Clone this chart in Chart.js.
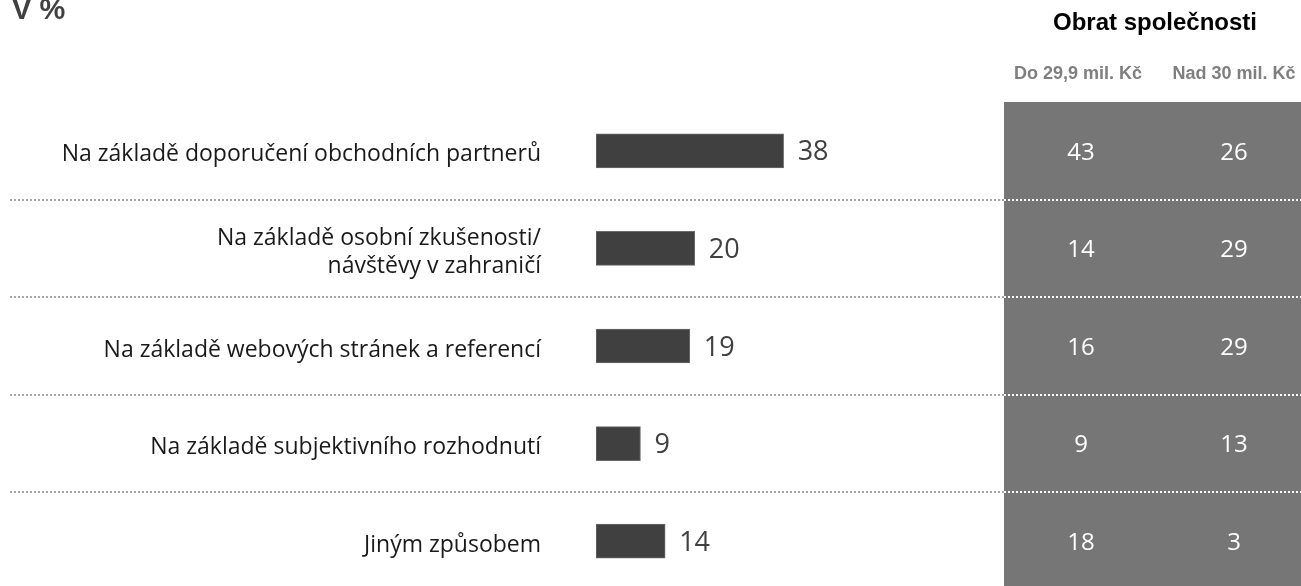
<!DOCTYPE html>
<html>
<head>
<meta charset="utf-8">
<script src="https://cdn.jsdelivr.net/npm/chart.js@4/dist/chart.umd.min.js"></script>
<style>
  html, body { margin: 0; padding: 0; background: #fff; overflow: hidden; }
  #wrap { width: 1301px; height: 586px; overflow: hidden; position: relative; }
  #c { display: block; }
</style>
</head>
<body>
<div id="wrap"><canvas id="c" width="1301" height="592"></canvas></div>
<script>
// ---- data ----
const categories = [
  "Na základě doporučení obchodních partnerů",
  ["Na základě osobní zkušenosti/", "návštěvy v zahraničí"],
  "Na základě webových stránek a referencí",
  "Na základě subjektivního rozhodnutí",
  "Jiným způsobem"
];
const totalValues = [38, 20, 19, 9, 14];
const smallCompanyValues = [43, 14, 16, 9, 18];
const largeCompanyValues = [26, 29, 29, 13, 3];
const chartTitle = "V %";
const panelTitle = "Obrat společnosti";
const panelColumns = ["Do 29,9 mil. Kč", "Nad 30 mil. Kč"];

const canvas = document.getElementById('c');
canvas.style.width = '1301px';
canvas.style.height = '592px';

const decor = {
  id: 'decor',
  beforeDraw(chart) {
    const ctx = chart.ctx;
    ctx.save();
    ctx.fillStyle = '#ffffff';
    ctx.fillRect(0, 0, chart.width, chart.height);
    // grey panel
    ctx.fillStyle = '#767676';
    ctx.fillRect(1004, chart.chartArea.top, chart.width - 1004, chart.height - chart.chartArea.top);
    // title
    ctx.fillStyle = '#404040';
    ctx.font = 'bold 29px "Liberation Sans", Arial, sans-serif';
    ctx.textAlign = 'left';
    ctx.textBaseline = 'alphabetic';
    ctx.fillText(chartTitle, 12, 19);
    // panel headers
    ctx.fillStyle = '#000000';
    ctx.font = 'bold 24px "Liberation Sans", Arial, sans-serif';
    ctx.textAlign = 'center';
    ctx.fillText(panelTitle, 1155, 30);
    ctx.fillStyle = '#7f7f7f';
    ctx.font = 'bold 18px "Liberation Sans", Arial, sans-serif';
    ctx.fillText(panelColumns[0], 1078, 79);
    ctx.fillText(panelColumns[1], 1234, 79);
    ctx.restore();
  },
  afterDraw(chart) {
    const ctx = chart.ctx;
    const ys = chart.scales.y;
    const xs = chart.scales.x;
    ctx.save();
    // dotted separators
    ctx.lineWidth = 2;
    ctx.setLineDash([2, 2]);
    for (let i = 0; i < categories.length - 1; i++) {
      const y = Math.round((ys.getPixelForValue(i) + ys.getPixelForValue(i + 1)) / 2);
      ctx.strokeStyle = '#a6a6a6';
      ctx.beginPath();
      ctx.moveTo(10, y);
      ctx.lineTo(1004, y);
      ctx.stroke();
      ctx.strokeStyle = '#ffffff';
      ctx.beginPath();
      ctx.moveTo(1004, y);
      ctx.lineTo(chart.width, y);
      ctx.stroke();
    }
    ctx.setLineDash([]);
    // value labels
    ctx.textBaseline = 'middle';
    ctx.textAlign = 'left';
    ctx.fillStyle = '#404040';
    ctx.font = '27px "Open Sans", sans-serif';
    totalValues.forEach((v, i) => {
      const y = ys.getPixelForValue(i);
      ctx.fillText(String(v), xs.getPixelForValue(v) + 14, y + 2);
    });
    // panel values
    ctx.textAlign = 'center';
    ctx.fillStyle = '#ffffff';
    ctx.font = '24px "Open Sans", sans-serif';
    smallCompanyValues.forEach((v, i) => {
      ctx.fillText(String(v), 1081, ys.getPixelForValue(i) + 2);
    });
    largeCompanyValues.forEach((v, i) => {
      ctx.fillText(String(v), 1234, ys.getPixelForValue(i) + 2);
    });
    ctx.restore();
  }
};

new Chart(canvas, {
  type: 'bar',
  data: {
    labels: categories,
    datasets: [{
      data: totalValues,
      backgroundColor: '#404040',
      borderColor: '#6a6a6a',
      borderWidth: 1,
      borderSkipped: false,
      barThickness: 34
    }]
  },
  options: {
    indexAxis: 'y',
    responsive: false,
    animation: false,
    devicePixelRatio: 1,
    layout: { padding: { top: 102, bottom: 2, left: 0, right: 310 } },
    plugins: { legend: { display: false }, tooltip: { enabled: false }, title: { display: false } },
    scales: {
      x: { display: false, min: 0, max: 80 },
      y: {
        type: 'category',
        grid: { display: false, drawTicks: false },
        border: { display: false },
        ticks: {
          padding: 55,
          labelOffset: 4,
          color: '#1a1a1a',
          font: { family: '"Open Sans", sans-serif', size: 23, lineHeight: 1.2 }
        },
        afterFit(scale) {
          scale.width = 596;
          scale.paddingTop = 0;
          scale.paddingBottom = 0;
        }
      }
    }
  },
  plugins: [decor]
});
</script>
</body>
</html>
